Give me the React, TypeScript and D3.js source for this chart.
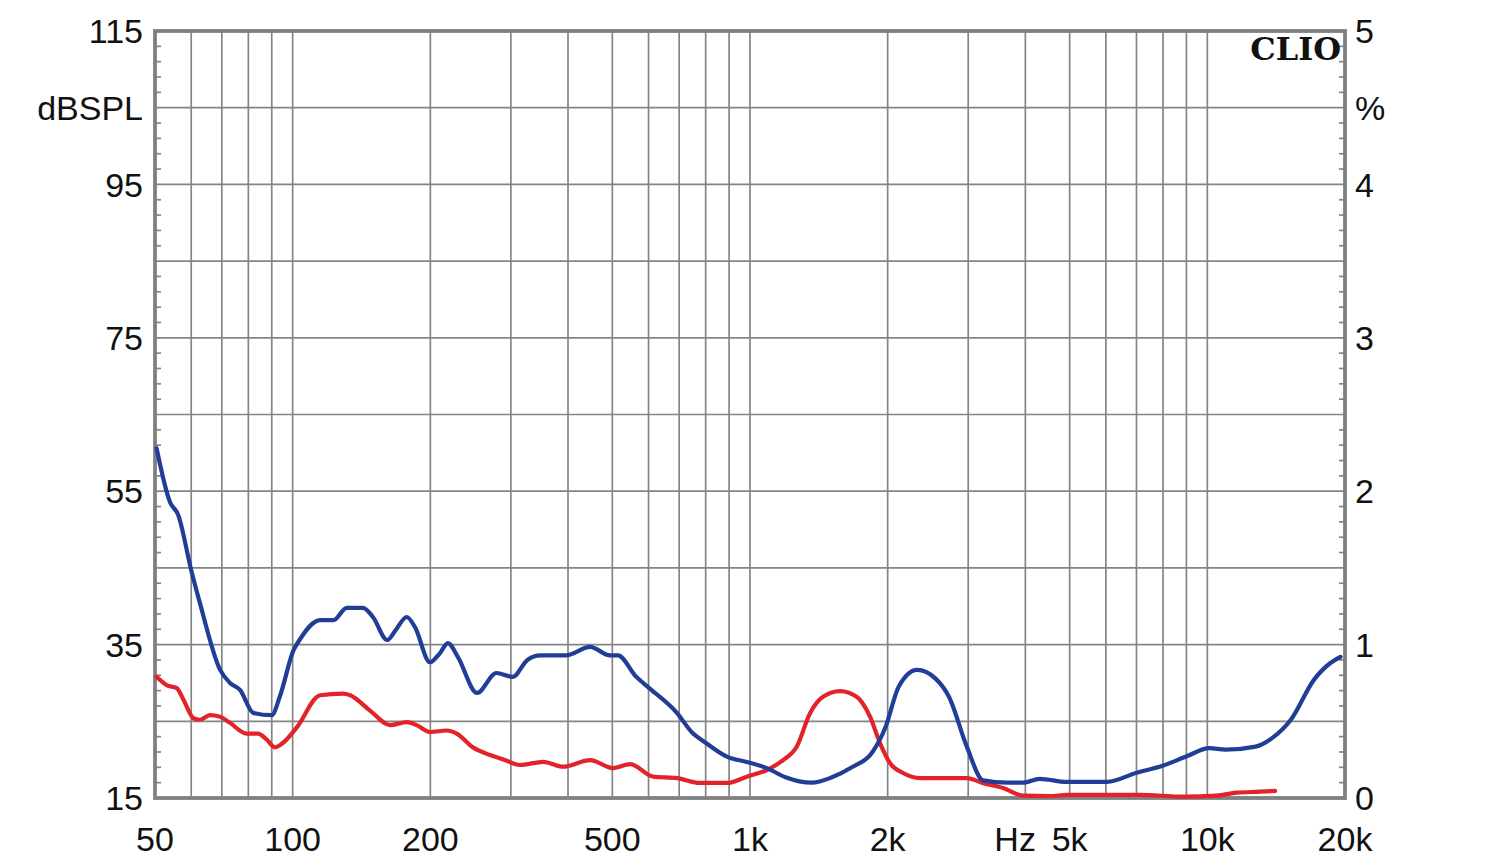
import * as d3 from 'd3';

// frequency response (dBSPL, left axis)
const splFreq = [50.4, 53.9, 56.2, 60, 62.7, 69.4, 72.9, 76.7, 82, 90, 93.7, 100.5, 103.5, 114.8, 122.8, 131.3, 142.5, 149.8, 161, 168, 177.6, 185, 199.6, 210, 218.5, 229.7, 253, 279, 303, 326, 348, 396, 447, 494, 514, 564, 603, 692, 748, 800, 890, 984, 1088, 1196, 1366, 1511, 1670, 1848, 1977, 2114, 2320, 2542, 2723, 2979, 3233, 3653, 3954, 4300, 4927, 6033, 7003, 7982, 8985, 10100, 10960, 12750, 13850, 15230, 17100, 18580, 19550];
const splValue = [60.6, 53.6, 51.9, 44.7, 40.4, 31.7, 30.0, 29.1, 26.1, 25.8, 28.2, 34.3, 35.6, 38.2, 38.2, 39.8, 39.8, 38.6, 35.6, 36.9, 38.6, 37.3, 32.7, 33.9, 35.2, 33.4, 28.7, 31.3, 30.8, 33.0, 33.6, 33.6, 34.7, 33.6, 33.6, 30.8, 29.3, 26.1, 23.5, 22.2, 20.4, 19.7, 18.9, 17.7, 17.0, 17.7, 19.0, 20.9, 24.2, 29.5, 31.7, 30.6, 28.2, 21.7, 17.3, 17.0, 17.0, 17.5, 17.1, 17.1, 18.3, 19.2, 20.4, 21.5, 21.3, 21.7, 22.8, 25.2, 30.4, 32.6, 33.4];

// distortion (%, right axis)
const thdFreq = [50.4, 53, 55.8, 57.7, 60.7, 62.7, 65.9, 69.4, 72.9, 79.3, 84, 87.8, 91.5, 95.3, 102.1, 114.8, 128.9, 133.5, 147.6, 163.3, 177.6, 186.7, 199.6, 217.2, 228.4, 248, 270, 290, 314, 353, 390, 447, 502, 547, 614, 692, 778, 890, 984, 1088, 1181, 1265, 1353, 1444, 1574, 1711, 1830, 1924, 2023, 2161, 2354, 2979, 3233, 3576, 3954, 4530, 4927, 7126, 8851, 10485, 11598, 13047, 14069];
const thdValue = [0.79, 0.736, 0.716, 0.64, 0.52, 0.51, 0.54, 0.53, 0.49, 0.42, 0.42, 0.38, 0.33, 0.36, 0.46, 0.67, 0.68, 0.67, 0.57, 0.475, 0.495, 0.475, 0.43, 0.44, 0.42, 0.33, 0.28, 0.25, 0.215, 0.236, 0.204, 0.247, 0.195, 0.221, 0.139, 0.13, 0.098, 0.098, 0.139, 0.182, 0.247, 0.334, 0.553, 0.66, 0.697, 0.66, 0.53, 0.358, 0.228, 0.163, 0.13, 0.13, 0.097, 0.065, 0.015, 0.013, 0.02, 0.02, 0.009, 0.015, 0.035, 0.041, 0.046];

const xLabels = ['50', '100', '200', '500', '1k', '2k', 'Hz', '5k', '10k', '20k'];
const xLabelFreq = [50, 100, 200, 500, 1000, 2000, 3800, 5000, 10000, 20000];
const gridFreq = [60, 70, 80, 90, 100, 200, 300, 400, 500, 600, 700, 800, 900, 1000, 2000, 3000, 4000, 5000, 6000, 7000, 8000, 9000, 10000];
const leftLabels = ['115', 'dBSPL', '95', '75', '55', '35', '15'];
const leftLabelVal = [115, 105, 95, 75, 55, 35, 15];
const rightLabels = ['5', '%', '4', '3', '2', '1', '0'];
const rightLabelVal = [5, 4.5, 4, 3, 2, 1, 0];

const L = 155, R = 1345, T = 31, B = 798;
const FONT = '"Liberation Sans", Arial, sans-serif';

export default function App() {
  const x = d3.scaleLog().domain([50, 20000]).range([L, R]);
  const yDb = d3.scaleLinear().domain([15, 115]).range([B, T]);
  const yPct = d3.scaleLinear().domain([0, 5]).range([B, T]);

  const splLine = d3.line<number>()
    .x((_, i) => x(splFreq[i]))
    .y(d => yDb(d))
    .curve(d3.curveMonotoneX);
  const thdLine = d3.line<number>()
    .x((_, i) => x(thdFreq[i]))
    .y(d => yPct(d))
    .curve(d3.curveMonotoneX);

  const hGrid = d3.range(25, 115, 10);
  const minor = d3.range(17, 115, 2).filter(v => (v - 15) % 10 !== 0);

  return (
    <svg width={1500} height={864} style={{ position: 'absolute', left: 0, top: 0, background: '#fff' }}>
      {gridFreq.map(f => (
        <line key={'v' + f} x1={x(f)} x2={x(f)} y1={T} y2={B} stroke="#858585" strokeWidth={1.7} />
      ))}
      {hGrid.map(v => (
        <line key={'h' + v} x1={L} x2={R} y1={yDb(v)} y2={yDb(v)} stroke="#858585" strokeWidth={1.7} />
      ))}
      {minor.map(v => (
        <g key={'m' + v}>
          <line x1={L} x2={L + 6} y1={yDb(v)} y2={yDb(v)} stroke="#858585" strokeWidth={1.7} />
          <line x1={R - 6} x2={R} y1={yDb(v)} y2={yDb(v)} stroke="#858585" strokeWidth={1.7} />
        </g>
      ))}
      <rect x={L} y={T} width={R - L} height={B - T} fill="none" stroke="#808080" strokeWidth={3.8} />

      <path d={thdLine(thdValue) ?? ''} fill="none" stroke="#e3232a" strokeWidth={4.2} strokeLinejoin="round" strokeLinecap="round" />
      <path d={splLine(splValue) ?? ''} fill="none" stroke="#213e97" strokeWidth={4.2} strokeLinejoin="round" strokeLinecap="round" />

      <text x={R - 4} y={60} textAnchor="end" fontFamily='"DejaVu Serif", "Liberation Serif", serif' fontWeight="bold" fontSize={32} fill="#111">CLIO</text>

      {leftLabels.map((t, i) => (
        <text key={'l' + t} x={143} y={yDb(leftLabelVal[i])} dy="0.36em" textAnchor="end" fontFamily={FONT} fontSize={34} fill="#111">{t}</text>
      ))}
      {rightLabels.map((t, i) => (
        <text key={'r' + t} x={1355} y={yPct(rightLabelVal[i])} dy="0.36em" textAnchor="start" fontFamily={FONT} fontSize={34} fill="#111">{t}</text>
      ))}
      {xLabels.map((t, i) => (
        <text key={'x' + t} x={x(xLabelFreq[i])} y={851} textAnchor="middle" fontFamily={FONT} fontSize={34} fill="#111">{t}</text>
      ))}
    </svg>
  );
}
